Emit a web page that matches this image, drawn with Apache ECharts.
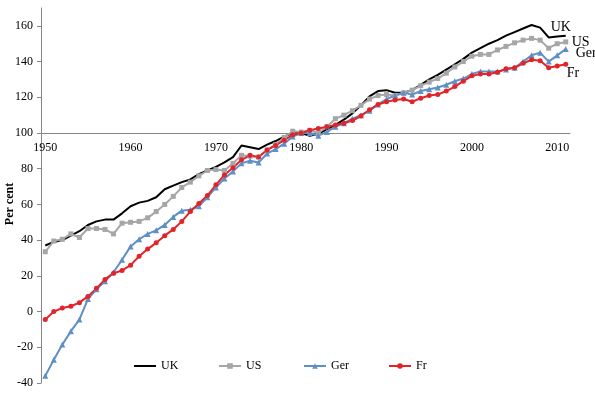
<!DOCTYPE html>
<html><head><meta charset="utf-8">
<script src="https://cdn.jsdelivr.net/npm/echarts@6/dist/echarts.min.js"></script>
<style>html,body{margin:0;padding:0;background:#fff}#c{width:595px;height:393px}</style>
</head><body><div id="c"></div>
<script>
const years = ['1950','1951','1952','1953','1954','1955','1956','1957','1958','1959',
'1960','1961','1962','1963','1964','1965','1966','1967','1968','1969',
'1970','1971','1972','1973','1974','1975','1976','1977','1978','1979',
'1980','1981','1982','1983','1984','1985','1986','1987','1988','1989',
'1990','1991','1992','1993','1994','1995','1996','1997','1998','1999',
'2000','2001','2002','2003','2004','2005','2006','2007','2008','2009',
'2010','2011'];
const uk = [37,39,40,42.5,45,48.5,50.5,51.5,51.5,55,
59,61,62,64,68.5,70.5,72.5,74,77,79,
81,83.5,86.5,93,92,91,93.5,95.5,98,100,
100,98.5,99.5,102,104.5,107.5,111,115.5,120.5,123.5,
124,122.5,122.5,124,127,130,132.5,135.5,138.5,141.5,
145,147.5,150,152,154.5,156.5,158.5,160.5,159,153.5,
154,154.5];
const us = [33.5,39.5,40.5,43.5,41.5,46.5,46.5,46,43.5,49.5,
50,50.5,52.5,56,60,64.5,69.5,72.5,76,79,
79.5,79,83,87.5,87,86.5,90.5,93.5,97.5,101,
100.5,101.5,100,103.5,108,110,112.5,115.5,119,121,
121.5,121,122.5,124,126.5,128.5,130.5,133.5,137,140,
143,144,144,146.5,148.5,150.5,152,153,152,147.5,
150,151];
const ger = [-36,-27,-18.5,-11,-4.5,7,12.5,17,22,29,
36.5,40.5,43.5,45.5,48.5,53,56.5,57,59,64,
69.5,74.5,78.5,83,84.5,83.5,88.5,91,94,98,
100,100,98.5,100.5,103.5,105.5,108,110,112.5,116,
119,121,122.5,121.5,123.5,124.5,125.5,127,129,130.5,
133,134.5,134.5,134.5,135.5,136.5,140,143.5,145,140,
143.5,147];
const fr = [-4.5,0,2,3,5,8.5,13,18,21.5,23,
26,31,35,38.5,42.5,46,50.5,56,60.5,65,
71,76.5,80.5,85,87.5,86.5,90.5,93,96,99,
100,101.5,102.5,103.5,104.5,105.5,107,109.5,113,116,
117.5,118.5,119,117.5,119.5,121,121.5,123.5,126,129,
132,133,133,134,136,136.5,139,141,140.5,136.5,
137.5,138.5];
const yTicks = [-40,-20,0,20,40,60,80,100,120,140,160];
const seriesNames = ['UK','US','Ger','Fr'];

const FONT = '"Liberation Serif","Times New Roman",serif';
const chart = echarts.init(document.getElementById('c'), null, {renderer:'canvas'});
function mk(name, data, color, symbol, size, off) {
  return {
    name, type:'line', data, color, xAxisIndex:0, yAxisIndex:0,
    symbol, symbolSize: size, showAllSymbol: true,
    lineStyle:{width:2, color},
    itemStyle:{color},
    emphasis:{disabled:true},
    animation:false,
    z: 3,
    endLabel:{show:true, formatter:name, fontFamily:FONT, fontSize:14, color:'#000', distance:0, offset:off}
  };
}
const legendLefts = [133, 218, 303, 388];
const legends = seriesNames.map((n, i) => ({
  data:[n === 'UK' ? {name:n, itemStyle:{opacity:0}} : n],
  left:legendLefts[i], top:360, padding:0, itemWidth:22, itemHeight:7, itemGap:0,
  textStyle:{fontFamily:FONT, fontSize:12, color:'#000'}
}));
chart.setOption({
  animation:false,
  grid:[
    {left:41, right:25, top:8, bottom:10},
    {left:41, right:25, top:8, height:125}
  ],
  legend:legends,
  xAxis:[
    {type:'category', data:years, boundaryGap:true, gridIndex:0, show:false},
    {type:'category', data:years, boundaryGap:true, gridIndex:1, position:'bottom',
      axisLine:{onZero:false, lineStyle:{color:'#868686', width:1}},
      axisTick:{interval:4, length:4, lineStyle:{color:'#868686'}},
      axisLabel:{interval:9, fontFamily:FONT, fontSize:12, color:'#000', margin:9},
      splitLine:{show:false}}
  ],
  yAxis:[
    {type:'value', gridIndex:0, min:-40, max:170, interval:20,
      axisLine:{show:true, onZero:false, lineStyle:{color:'#868686', width:1}},
      axisTick:{show:true, length:4, lineStyle:{color:'#868686'}, customValues:yTicks},
      axisLabel:{fontFamily:FONT, fontSize:12, color:'#000', margin:8, customValues:yTicks,
        formatter:v => (v > 160 ? '' : String(v))},
      splitLine:{show:false}},
    {type:'value', gridIndex:1, min:0, max:1, show:false}
  ],
  graphic:[{type:'text', x:10, y:204, rotation:Math.PI/2,
    style:{text:'Per cent', font:'bold 12px ' + FONT, fill:'#000', align:'center', verticalAlign:'middle'}}],
  series:[
    mk('UK', uk, '#000000', 'none', 0, [-15,-8]),
    mk('US', us, '#A6A6A6', 'rect', 5, [6,0]),
    mk('Ger', ger, '#5E8FC6', 'triangle', 6, [10,4]),
    mk('Fr', fr, '#E2242A', 'circle', 5, [1,9])
  ]
});
</script></body></html>
